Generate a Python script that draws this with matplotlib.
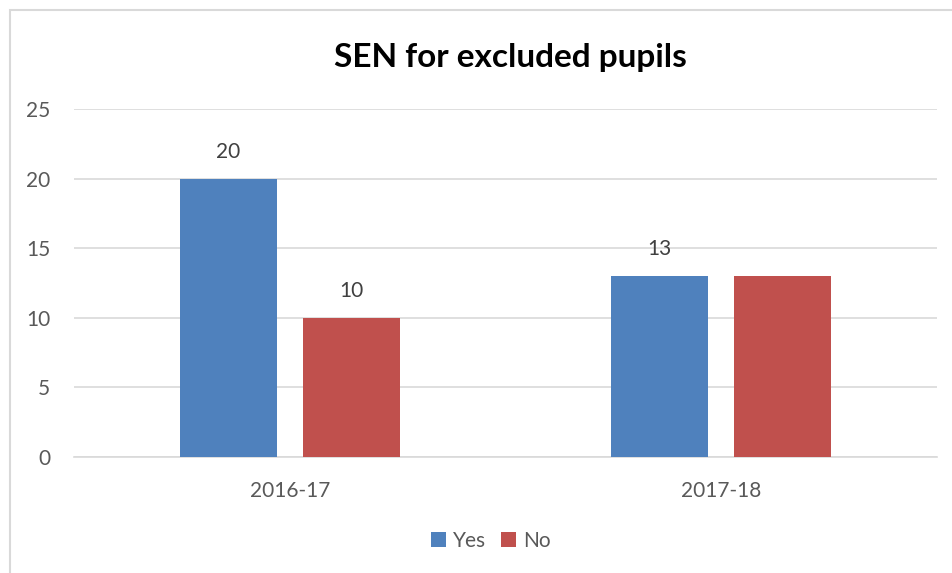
import matplotlib
matplotlib.use("Agg")
import matplotlib.pyplot as plt
import numpy as np

categories = ["2016-17", "2017-18"]
series_names = ["Yes", "No"]
yes_values = [20, 13]
no_values = [10, 13]
yes_labels = ["20", "13"]
no_labels = ["10", ""]
y_ticks = [0, 5, 10, 15, 20, 25]

plt.rcParams['font.family'] = ['Lato', 'DejaVu Sans']
W, H = 953, 573
fig = plt.figure(figsize=(W / 100, H / 100), dpi=100)

# outer border (only top/left visible)
border = plt.Rectangle((10 / W, -0.1), 1.2, 1 - 10 / H + 0.1, transform=fig.transFigure,
                       fill=False, edgecolor="#d9d9d9", linewidth=1.5)
fig.patches.append(border)

ax = fig.add_axes([74 / W, 1 - 457 / H, (937 - 74) / W, (457 - 109) / H])
x = np.arange(len(categories))
w = 0.225
off = 0.1425
b1 = ax.bar(x - off, yes_values, w, color="#4F81BD", label=series_names[0], zorder=3)
b2 = ax.bar(x + off, no_values, w, color="#C0504D", label=series_names[1], zorder=3)

txt = "#595959"
fs = 15
for bars, labels in ((b1, yes_labels), (b2, no_labels)):
    for rect, lab in zip(bars, labels):
        if lab:
            ax.annotate(lab, (rect.get_x() + rect.get_width() / 2, rect.get_height()),
                        xytext=(0, 12), textcoords="offset points", ha="center", va="bottom",
                        fontsize=fs, color="#404040")

ax.set_xlim(-0.5, 1.5)
ax.set_ylim(0, 25)
ax.set_yticks(y_ticks)
ax.set_xticks(x)
ax.set_xticklabels(categories)
ax.grid(axis="y", color="#d9d9d9", linewidth=1.2, zorder=0)
for s in ["top", "right", "left"]:
    ax.spines[s].set_visible(False)
ax.spines["bottom"].set_color("#d9d9d9")
ax.spines["bottom"].set_linewidth(1.2)
ax.tick_params(axis="both", length=0, labelsize=fs, labelcolor=txt)
ax.tick_params(axis="y", pad=17)
ax.tick_params(axis="x", pad=17)

fig.text(510 / W, 1 - 57 / H, "SEN for excluded pupils", ha="center", va="center",
         fontsize=24, fontweight="bold", color="black")

leg = fig.legend(handles=[b1, b2], labels=series_names, loc="center",
                 bbox_to_anchor=(491 / W, 1 - 541 / H), ncol=2, frameon=False,
                 fontsize=fs, handlelength=0.7, handleheight=0.7, handletextpad=0.35,
                 columnspacing=0.7)
for t in leg.get_texts():
    t.set_color(txt)

fig.savefig("out.png", dpi=100)
